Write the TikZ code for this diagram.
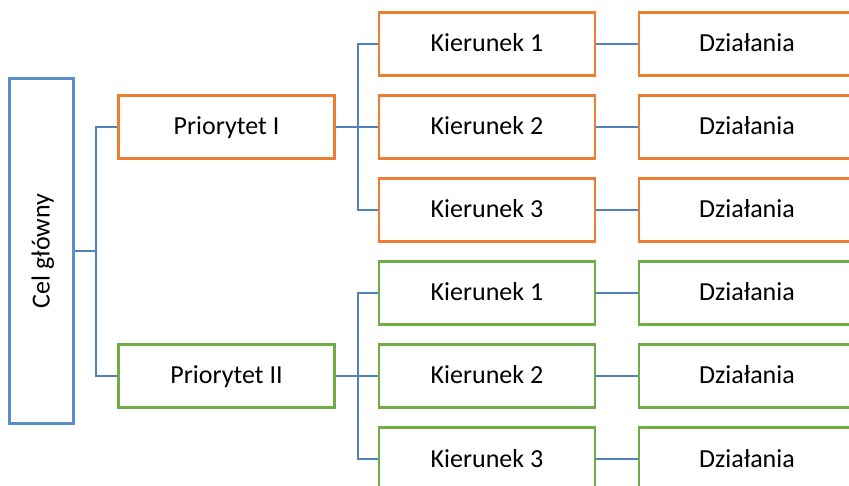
\documentclass[tikz,border=0pt]{standalone}
\usepackage{fontspec}
\setmainfont{Carlito}
\definecolor{celblue}{HTML}{5B8FC9}
\definecolor{connblue}{HTML}{4F81BD}
\definecolor{prioorange}{HTML}{ED7D31}
\definecolor{priogreen}{HTML}{70AD47}

\begin{document}
\begin{tikzpicture}[x=1pt,y=-1pt,
  box/.style={draw,fill=white,line width=2.6pt,minimum width=216pt,minimum height=63.5pt,
    text height=16pt,text depth=0pt,font=\fontsize{26}{30}\selectfont},
  orangebox/.style={box,draw=prioorange},
  greenbox/.style={box,draw=priogreen},
  conn/.style={connblue,line width=2.3pt}]
\useasboundingbox (0,0) rectangle (849,486);

\node[box,draw=celblue,rotate=90,minimum width=345pt,minimum height=64pt] (cel) at (41.5,251) {Cel główny};

\node[orangebox] (p1) at (226.5,127) {Priorytet I};
\node[greenbox] (p2) at (226.5,376) {Priorytet II};

\foreach \k/\y in {1/44,2/127,3/210}{
  \node[orangebox] (k1\k) at (487,\y) {Kierunek \k};
  \node[orangebox] (d1\k) at (747,\y) {Działania};
}
\foreach \k/\y in {1/293,2/376,3/459}{
  \node[greenbox] (k2\k) at (487,\y) {Kierunek \k};
  \node[greenbox] (d2\k) at (747,\y) {Działania};
}

% connectors
\draw[conn] (cel.south) -- ++(21,0) coordinate (c0);
\draw[conn] (c0) |- (p1.west);
\draw[conn] (c0) |- (p2.west);
\foreach \p in {1,2}{
  \draw[conn] (p\p.east) -- ++(22,0) coordinate (c\p);
  \foreach \k in {1,2,3}{
    \draw[conn] (c\p) |- (k\p\k.west);
    \draw[conn] (k\p\k.east) -- (d\p\k.west);
  }
}
\end{tikzpicture}
\end{document}
